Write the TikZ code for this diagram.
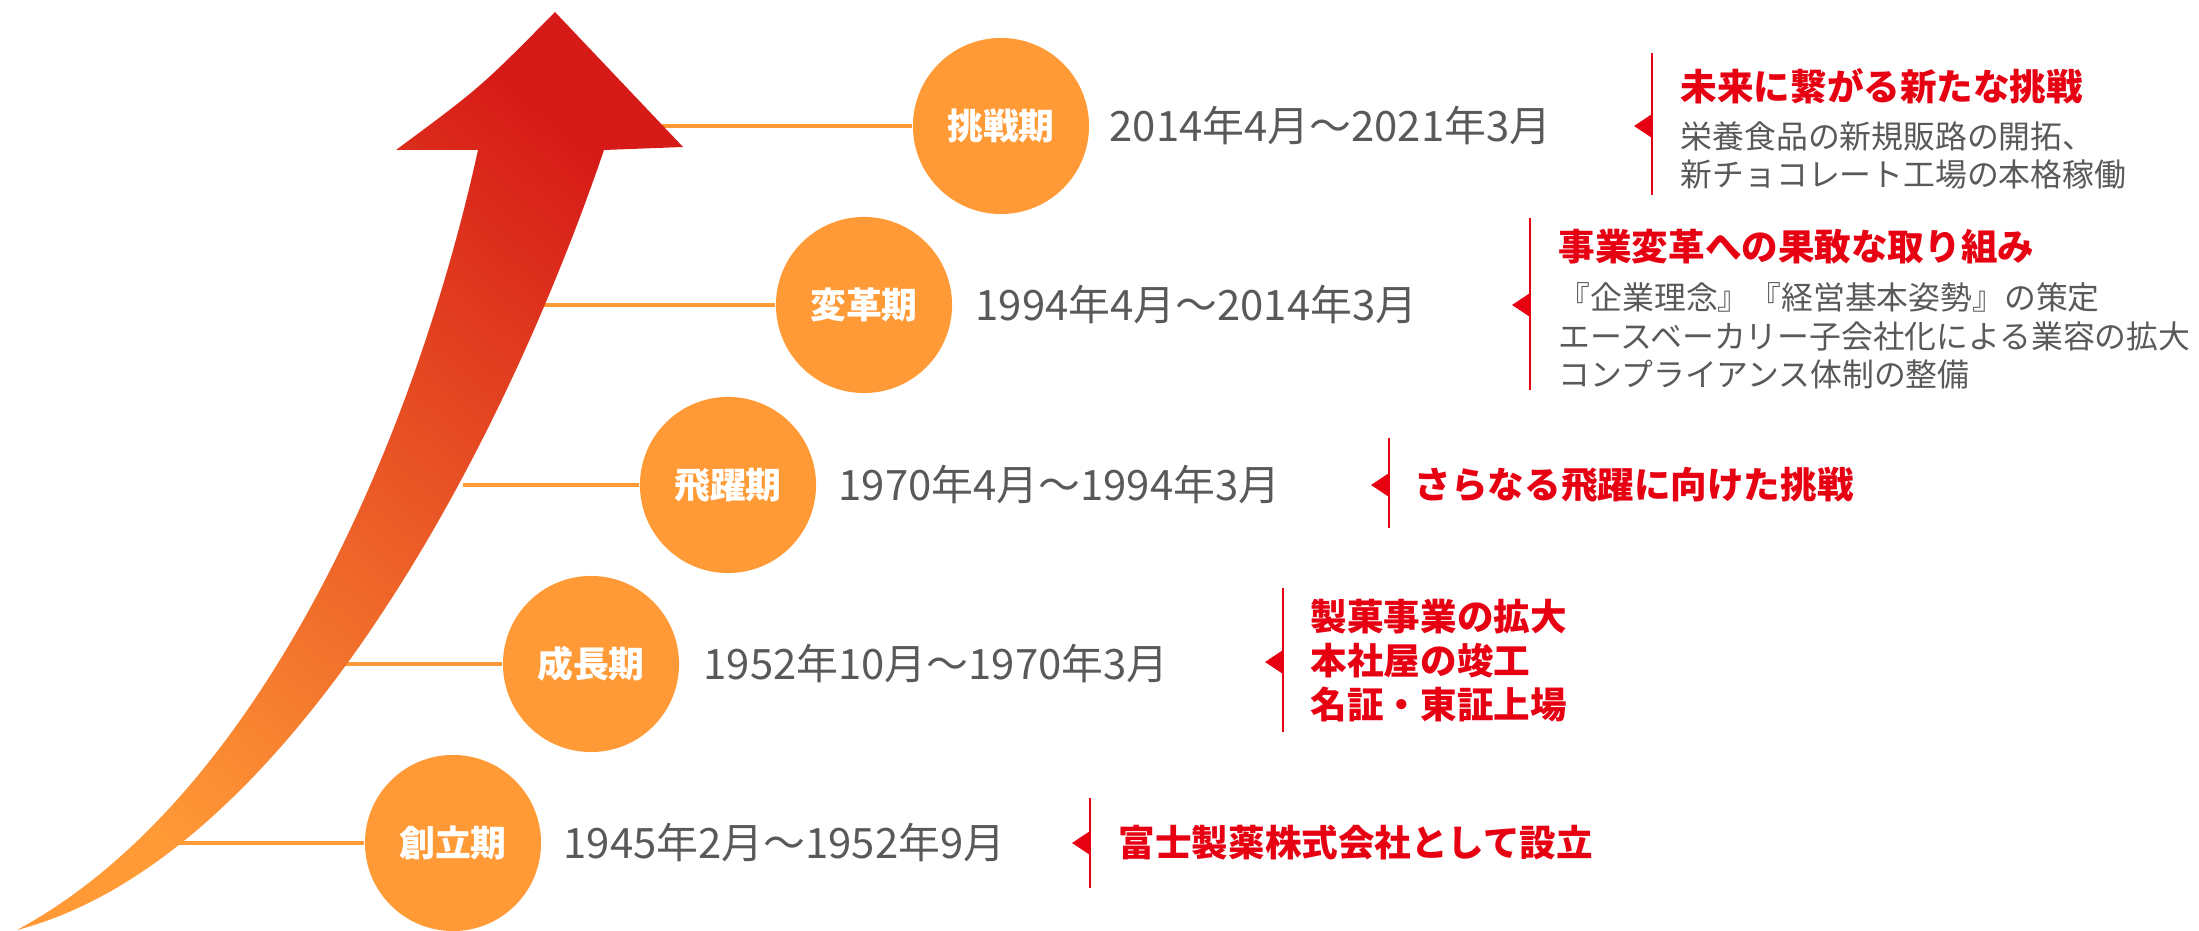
\documentclass[tikz,border=0pt]{standalone}
\usepackage{fontspec}
\setmainfont{Noto Sans CJK JP}
\usetikzlibrary{backgrounds}
\definecolor{orangeC}{HTML}{FF9A36}
\definecolor{redC}{HTML}{E60012}
\definecolor{grayC}{HTML}{595959}
\definecolor{arrowTop}{HTML}{D61A17}
\definecolor{arrowMid}{HTML}{E8652A}
\definecolor{arrowBot}{HTML}{FF9A36}
\begin{document}
\begin{tikzpicture}[x=0.01cm, y=-0.01cm,
  period/.style={circle, fill=orangeC, minimum size=1.76cm, inner sep=0pt, text=white,
    font=\fontsize{10.2pt}{12pt}\selectfont\bfseries},
  datetext/.style={anchor=west, inner sep=0pt, text=grayC, font=\fontsize{11.9pt}{14pt}\selectfont},
  headline/.style={anchor=west, inner sep=0pt, text=redC, font=\fontsize{10.4pt}{12.4pt}\selectfont\bfseries},
  bodytext/.style={anchor=west, inner sep=0pt, text=grayC, font=\fontsize{9.05pt}{10.9pt}\selectfont},
  redbar/.style={draw=redC, line width=0.6pt},
  pointer/.style={fill=redC},
  link/.style={draw=orangeC, line width=0.9pt}]
\useasboundingbox (0,0) rectangle (2199,931);

% period circles
\node[period] (p1) at (453,843) {創立期};
\node[period] (p2) at (591,664) {成長期};
\node[period] (p3) at (728,485) {飛躍期};
\node[period] (p4) at (864,305) {変革期};
\node[period] (p5) at (1001,126) {挑戦期};

% dates
\node[datetext] (d1) at (563,843) {1945年2月～1952年9月};
\node[datetext] (d2) at (703,664) {1952年10月～1970年3月};
\node[datetext] (d3) at (838,485) {1970年4月～1994年3月};
\node[datetext] (d4) at (975,305) {1994年4月～2014年3月};
\node[datetext] (d5) at (1109,126) {2014年4月～2021年3月};

% line start points on the arrow
\coordinate (s1) at (160,843);
\coordinate (s2) at (342,664);
\coordinate (s3) at (463,485);
\coordinate (s4) at (541,305);
\coordinate (s5) at (650,126);

\begin{pgfonlayer}{background}
  \draw[link] (s1) -- (p1.west);
  \draw[link] (s2) -- (p2.west);
  \draw[link] (s3) -- (p3.west);
  \draw[link] (s4) -- (p4.west);
  \draw[link] (s5) -- (p5.west);
  \shade[bottom color=arrowBot, middle color=arrowMid, top color=arrowTop, shading angle=-40]
    (555,12) -- (683,147) -- (604,150)
    .. controls (491,481) and (274,863) .. (17,930)
    .. controls (263,797) and (416,433) .. (478,150)
    -- (396,150) .. controls (481,87) .. (555,12) -- cycle;
\end{pgfonlayer}

% block 5 (挑戦期)
\draw[redbar] (1652,53) -- (1652,195);
\fill[pointer] (1652,114) -- (1634,126) -- (1652,138) -- cycle;
\node[headline] (h5) at (1680,86) {未来に繋がる新たな挑戦};
\node[bodytext] (b5a) at (1680,136) {栄養食品の新規販路の開拓、};
\node[bodytext] (b5b) at (1680,174) {新チョコレート工場の本格稼働};

% block 4 (変革期)
\draw[redbar] (1530,218) -- (1530,390);
\fill[pointer] (1530,293) -- (1512,305) -- (1530,317) -- cycle;
\node[headline] (h4) at (1558,247) {事業変革への果敢な取り組み};
\node[bodytext] (b4a) at (1558,297) {『企業理念』『経営基本姿勢』の策定};
\node[bodytext] (b4b) at (1558,336) {エースベーカリー子会社化による業容の拡大};
\node[bodytext] (b4c) at (1558,374) {コンプライアンス体制の整備};

% block 3 (飛躍期)
\draw[redbar] (1389,438) -- (1389,528);
\fill[pointer] (1389,473) -- (1371,485) -- (1389,497) -- cycle;
\node[headline] (h3) at (1414,485) {さらなる飛躍に向けた挑戦};

% block 2 (成長期)
\draw[redbar] (1283,588) -- (1283,732);
\fill[pointer] (1283,650) -- (1265,662) -- (1283,674) -- cycle;
\node[headline] (h2a) at (1310,617) {製菓事業の拡大};
\node[headline] (h2b) at (1310,661) {本社屋の竣工};
\node[headline] (h2c) at (1310,705) {名証・東証上場};

% block 1 (創立期)
\draw[redbar] (1090,798) -- (1090,888);
\fill[pointer] (1090,831) -- (1072,843) -- (1090,855) -- cycle;
\node[headline] (h1) at (1118,843) {富士製薬株式会社として設立};
\end{tikzpicture}
\end{document}
